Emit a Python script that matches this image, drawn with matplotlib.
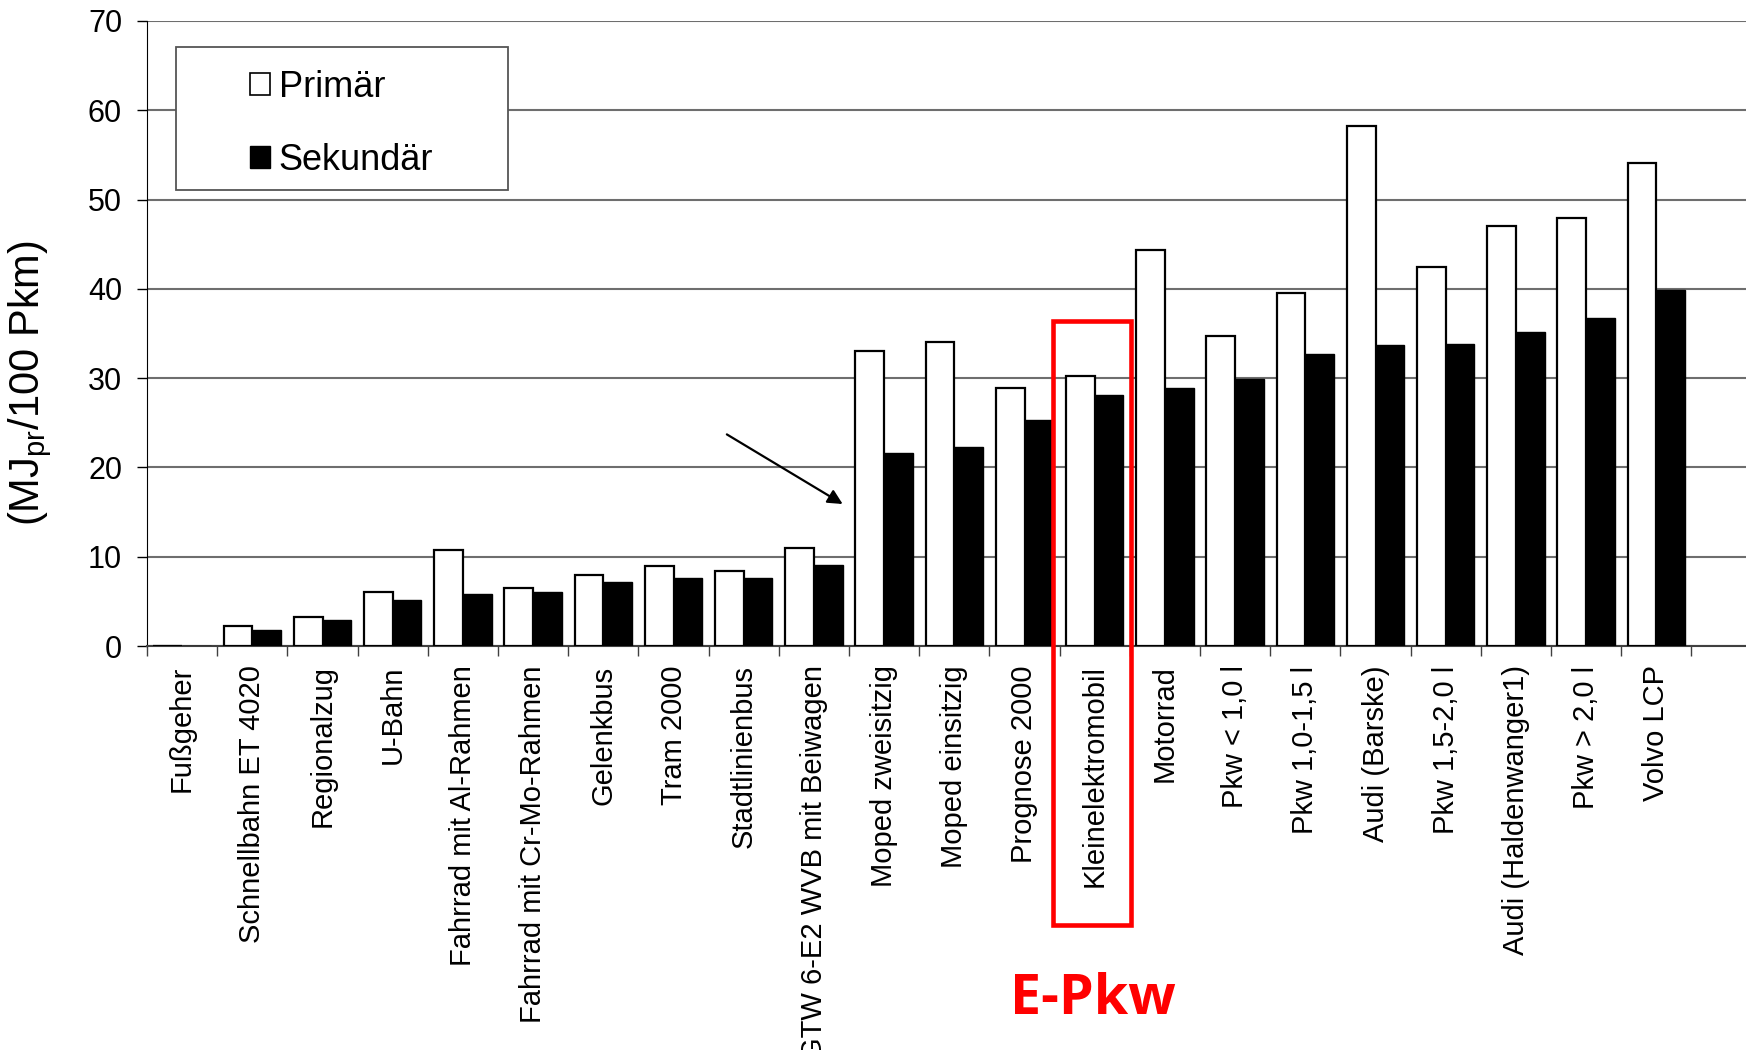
import matplotlib

matplotlib.use("Agg")
import matplotlib.pyplot as plt
import numpy as np
from matplotlib.patches import Patch, Rectangle

plt.rcParams["font.family"] = ["Liberation Sans", "DejaVu Sans"]
plt.rcParams["mathtext.default"] = "regular"

CATEGORIES = [
    "Fußgeher",
    "Schnellbahn ET 4020",
    "Regionalzug",
    "U-Bahn",
    "Fahrrad mit Al-Rahmen",
    "Fahrrad mit Cr-Mo-Rahmen",
    "Gelenkbus",
    "Tram 2000",
    "Stadtlinienbus",
    "GTW 6-E2 WVB mit Beiwagen",
    "Moped zweisitzig",
    "Moped einsitzig",
    "Prognose 2000",
    "Kleinelektromobil",
    "Motorrad",
    "Pkw < 1,0 l",
    "Pkw 1,0-1,5 l",
    "Audi (Barske)",
    "Pkw 1,5-2,0 l",
    "Audi (Haldenwanger1)",
    "Pkw > 2,0 l",
    "Volvo LCP",
]
PRIMAER = [0, 2.2, 3.3, 6.1, 10.8, 6.5, 8.0, 9.0, 8.4, 11.0, 33.0, 34.0,
           28.9, 30.2, 44.4, 34.7, 39.5, 58.2, 42.5, 47.0, 47.9, 54.1]
SEKUNDAER = [0, 1.8, 2.9, 5.1, 5.8, 6.0, 7.2, 7.6, 7.6, 9.1, 21.6, 22.3,
             25.3, 28.1, 28.9, 29.9, 32.7, 33.7, 33.8, 35.2, 36.7, 39.9]
Y_TICKS = [0, 10, 20, 30, 40, 50, 60, 70]
HIGHLIGHT = "Kleinelektromobil"
HIGHLIGHT_TEXT = "E-Pkw"

FONT_XTICKS = 21
FONT_YTICKS = 22
FONT_LEGEND = 26
FONT_YLABEL = 30
BAR_W = 0.41


def main():
    fig = plt.figure(figsize=(17.46, 10.5), dpi=100)
    ax = fig.add_axes([147 / 1746, 1 - 646 / 1050, 1599 / 1746, 625 / 1050])

    n = len(CATEGORIES)
    centers = np.arange(n) + 0.5

    ax.bar(centers - BAR_W / 2, PRIMAER, width=BAR_W, color="white",
           edgecolor="black", linewidth=1.6, zorder=3)
    ax.bar(centers + BAR_W / 2, SEKUNDAER, width=BAR_W, color="black",
           edgecolor="black", linewidth=1.0, zorder=3)

    ax.set_xlim(0, 1599 / 70.2)
    ax.set_ylim(0, 70)
    ax.set_yticks(Y_TICKS)
    ax.yaxis.grid(True, color="#6e6e6e", linewidth=1.5, zorder=0)
    ax.set_axisbelow(True)

    ax.set_xticks(np.arange(n + 1))
    ax.set_xticks(centers, minor=True)
    ax.set_xticklabels([])
    ax.set_xticklabels(CATEGORIES, minor=True, rotation=90, fontsize=FONT_XTICKS)
    ax.tick_params(axis="x", which="minor", length=0, pad=14)
    ax.tick_params(axis="x", which="major", direction="out", length=7,
                   width=1.0, color="#404040")
    ax.tick_params(axis="y", direction="out", length=7, width=1.0,
                   labelsize=FONT_YTICKS, pad=11)

    for side in ("top", "right"):
        ax.spines[side].set_visible(False)
    ax.spines["left"].set_color("black")
    ax.spines["bottom"].set_color("#404040")
    ax.spines["bottom"].set_linewidth(1.5)

    ax.set_ylabel("(MJ$_{pr}$/100 Pkm)", fontsize=FONT_YLABEL)
    ax.yaxis.set_label_coords(-0.058, 0.42)

    # legend frame drawn separately, it is wider than its content
    ax.add_patch(Rectangle((0.018, 0.73), 0.208, 0.228, transform=ax.transAxes,
                           facecolor="white", edgecolor="#555555",
                           linewidth=1.3, zorder=5))
    handles = [
        Patch(facecolor="white", edgecolor="black", linewidth=1.2),
        Patch(facecolor="black", edgecolor="black"),
    ]
    ax.legend(handles, ["Primär", "Sekundär"], loc="upper left",
              bbox_to_anchor=(0.053, 0.951), frameon=False, borderpad=0,
              fontsize=FONT_LEGEND, handlelength=0.55, handleheight=0.55,
              handletextpad=0.25, labelspacing=1.05).set_zorder(6)

    ax.annotate("", xy=(9.91, 15.9), xytext=(8.26, 23.7),
                arrowprops=dict(arrowstyle="-|>", color="black", lw=1.6,
                                mutation_scale=22, shrinkA=0, shrinkB=0))

    idx = CATEGORIES.index(HIGHLIGHT)
    ax.add_patch(Rectangle((idx - 0.1, -31.2), 1.12, 36.4 + 31.2,
                           facecolor="none", edgecolor="#ff0000",
                           linewidth=3.3, clip_on=False, zorder=7))
    fig.text(1093 / 1746, 1 - 999 / 1050, HIGHLIGHT_TEXT, color="#ff0000",
             fontsize=40, fontweight="bold", family="Open Sans",
             ha="center", va="center")

    fig.savefig("out.png", dpi=100)
    plt.close(fig)


if __name__ == "__main__":
    main()
